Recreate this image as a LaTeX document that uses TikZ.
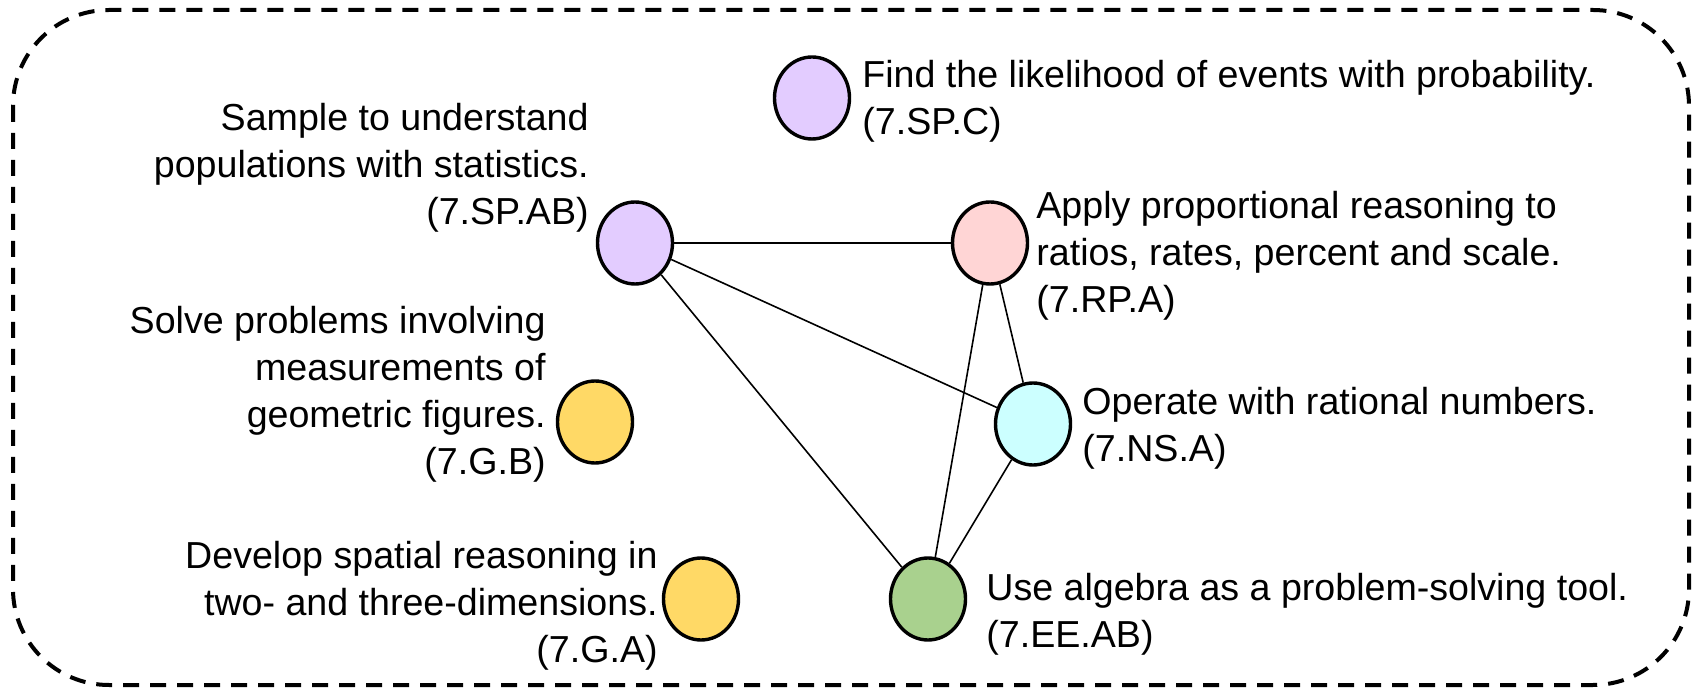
\documentclass[tikz,border=0pt]{standalone}
\usepackage{fontspec}
\setmainfont{Liberation Sans}
\usetikzlibrary{shapes.geometric}
\definecolor{purp}{HTML}{E3CCFF}
\definecolor{pinkish}{HTML}{FFD5D5}
\definecolor{cyanish}{HTML}{CCFFFF}
\definecolor{greenish}{HTML}{A9D18E}
\definecolor{goldish}{HTML}{FFD966}
\begin{document}
\begin{tikzpicture}[x=0.5pt,y=-0.5pt,
  goalstyle/.style={ellipse,draw,line width=1.7pt,minimum width=37.5pt,minimum height=41pt,inner sep=0pt},
  textstyle/.style={inner sep=0pt,font=\fontsize{18.8}{23.4}\selectfont}]
\useasboundingbox (0,0) rectangle (1696,688);
\draw[line width=2pt,dash pattern=on 8pt off 5.5pt,rounded corners=48pt] (13,10) rectangle (1689,685);
\foreach \name/\x/\y/\col in {spc/812/98/purp,spab/635/243/purp,rpa/990/243/pinkish,
  nsa/1033/424/cyanish,eeab/928/599/greenish,gb/595/422/goldish,ga/701/599/goldish}
{\node[goalstyle,fill=\col](\name) at (\x,\y){};
}
\foreach \a/\b in {spab/rpa,spab/nsa,spab/eeab,rpa/nsa,rpa/eeab,nsa/eeab}
  \draw[line width=0.8pt] (\a)--(\b);
% texts
\node[textstyle,anchor=north west,align=left](spctext) at (862,60){Find the likelihood of events with probability.\\(7.SP.C)};
\node[textstyle,anchor=north east,align=right](spabtext) at (589,103){Sample to understand\\populations with statistics.\\(7.SP.AB)};
\node[textstyle,anchor=north west,align=left](rpatext) at (1036,191){Apply proportional reasoning to\\ratios, rates, percent and scale.\\(7.RP.A)};
\node[textstyle,anchor=north west,align=left](nsatext) at (1082,387){Operate with rational numbers.\\(7.NS.A)};
\node[textstyle,anchor=north west,align=left](eeabtext) at (986,573){Use algebra as a problem-solving tool.\\(7.EE.AB)};
\node[textstyle,anchor=north east,align=right](gbtext) at (546,306){Solve problems involving\\measurements of\\geometric figures.\\(7.G.B)};
\node[textstyle,anchor=north east,align=right](gatext) at (658,541){Develop spatial reasoning in\\two- and three-dimensions.\\(7.G.A)};
\end{tikzpicture}
\end{document}
